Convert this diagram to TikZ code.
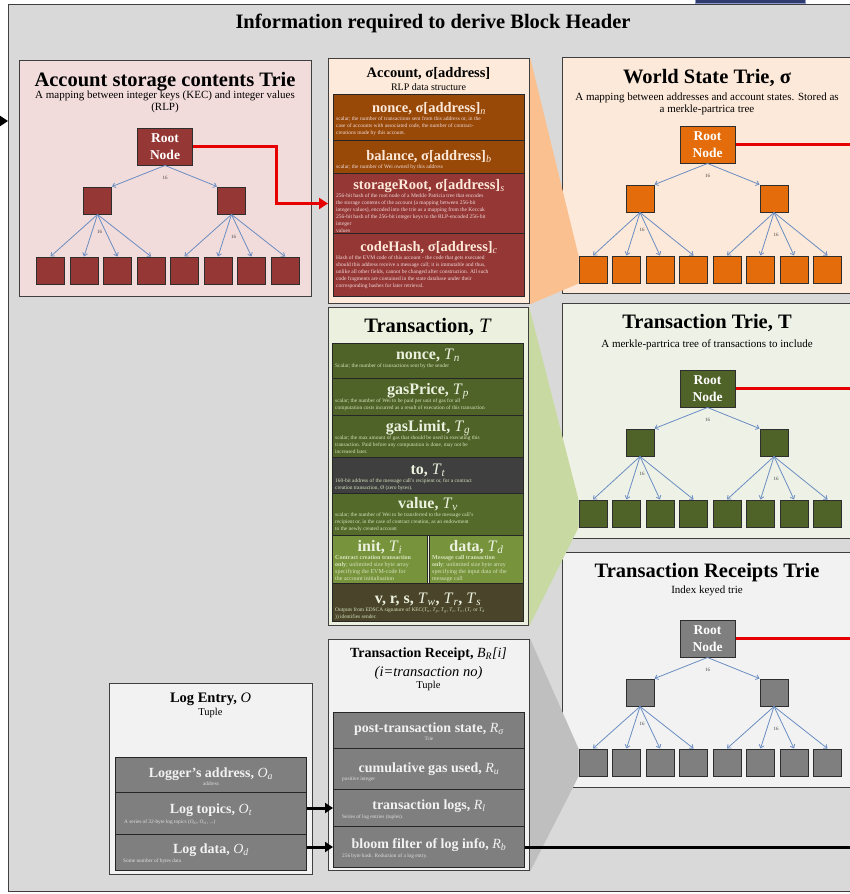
\documentclass[tikz,border=0pt]{standalone}
\usepackage{fontspec}
\setmainfont{Liberation Serif}
\usetikzlibrary{arrows.meta,calc}
\pgfdeclarelayer{back}
\pgfdeclarelayer{mid}
\pgfsetlayers{back,mid,main}

\definecolor{bgmain}{HTML}{D9D9D9}
\definecolor{edge}{HTML}{3F3F3F}
\definecolor{nodeedge}{HTML}{2E2E2E}
\definecolor{rowedge}{HTML}{262626}
\definecolor{asfill}{HTML}{F2DCDB}
\definecolor{asnode}{HTML}{953735}
\definecolor{wsfill}{HTML}{FDE9D9}
\definecolor{wsnode}{HTML}{E46C0A}
\definecolor{accfill}{HTML}{FDEADA}
\definecolor{accbrown}{HTML}{984807}
\definecolor{accred}{HTML}{953735}
\definecolor{acctext}{HTML}{FDE9D9}
\definecolor{accdesc}{HTML}{F2DCDB}
\definecolor{orangefun}{HTML}{FAC090}
\definecolor{txtriefill}{HTML}{EEF1E6}
\definecolor{txnode}{HTML}{4F6228}
\definecolor{txbox}{HTML}{EBF1DE}
\definecolor{txrow}{HTML}{4F6228}
\definecolor{txto}{HTML}{3F3F3F}
\definecolor{txvalue}{HTML}{536A2B}
\definecolor{txlight}{HTML}{77933C}
\definecolor{txvrs}{HTML}{4A452A}
\definecolor{txtext}{HTML}{EBF1DE}
\definecolor{txdesc}{HTML}{D7E4BD}
\definecolor{greenfun}{HTML}{C8DAA2}
\definecolor{rcfill}{HTML}{F2F2F2}
\definecolor{rcnode}{HTML}{7F7F7F}
\definecolor{greyfun}{HTML}{BFBFBF}
\definecolor{logfill}{HTML}{F2F2F2}
\definecolor{logrow}{HTML}{7F7F7F}
\definecolor{logtext}{HTML}{F2F2F2}
\definecolor{logdesc}{HTML}{E0E0E0}
\definecolor{tblue}{HTML}{6A8DC2}
\definecolor{labelgrey}{HTML}{404040}
\definecolor{redc}{HTML}{E60000}
\definecolor{stripnavy}{HTML}{2F3A6E}
\definecolor{stripedge}{HTML}{8C9AC8}

\newcommand\fsz[2]{\fontsize{#1}{#2}\selectfont}
\newcommand\itm[1]{\textit{\mdseries #1}}
\newcommand\isub[2]{\itm{#1}\textsubscript{\itm{#2}}}

% A two-level trie: #1 name prefix, #2 centre x, #3 root top, #4 middle row top,
% #5 leaf row top, #6 node colour
\newcommand\drawtrie[6]{%
  \node[rootnode, fill=#6] (#1root) at (#2, #3+18.5) {Root\\Node};
  \node[tnode, fill=#6] (#1a) at (#2-67.5, #4+13.5) {};
  \node[tnode, fill=#6] (#1b) at (#2+66.5, #4+13.5) {};
  \foreach \k in {1,...,8}
    \node[tnode, fill=#6] (#1l\k) at ({#2-114.5+33.5*(\k-1)}, #5+13.5) {};
  \draw[tarrow] (#1root.south) -- (#1a.north east);
  \draw[tarrow] (#1root.south) -- (#1b.north west);
  \foreach \k in {1,...,4} \draw[tarrow] (#1a.south) -- (#1l\k.north);
  \foreach \k in {5,...,8} \draw[tarrow] (#1b.south) -- (#1l\k.north);
  \path (#1root.south) ++(0,12) node[tlabel] (#1n0) {16};
  \path (#1a.south) ++(2,17) node[tlabel] (#1n1) {16};
  \path (#1b.south) ++(2,22) node[tlabel] (#1n2) {16};
}

% A field row: #1 name, #2 left x, #3 top y, #4 width, #5 height, #6 fill,
% #7 title baseline offset, #8 title, #9 description
\newcommand\fieldrow[9]{%
  \node[rowrect, fill=#6, minimum width=#4, minimum height=#5] (#1) at (#2,#3) {};
  \node[rowtitle, anchor=base] (#1t) at ($(#1.north)+(0,#7)$) {#8};
  \node[rowdesc, anchor=north west] (#1d) at ($(#1.west |- #1t.base)+(3,4)$) {#9};
}

\begin{document}
\begin{tikzpicture}[x=1pt,y=-1pt,
  box/.style={draw=edge, line width=1.2pt, inner sep=0pt, anchor=north west},
  ptitle/.style={font=\fsz{20.5}{23}\bfseries, inner sep=0pt},
  psub/.style={font=\fsz{11}{12.5}, align=center, inner sep=0pt},
  rootnode/.style={draw=nodeedge, line width=1pt, minimum width=55pt, minimum height=37pt,
    inner sep=0pt, font=\fsz{13.5}{17}\bfseries, text=white, align=center},
  tnode/.style={draw=nodeedge, line width=1pt, minimum width=28pt, minimum height=27pt, inner sep=0pt},
  tarrow/.style={draw=tblue, line width=0.8pt, -{Straight Barb[length=3pt,width=5pt]}},
  tlabel/.style={font=\fsz{5}{6}, text=labelgrey, inner sep=0pt},
  rowrect/.style={draw=rowedge, line width=1pt, inner sep=0pt, anchor=north west},
  lrtitle/.style={font=\fsz{14}{16}\bfseries, text=logtext, inner sep=0pt},
  lrsub/.style={font=\fsz{5.3}{6}, text=logdesc, inner sep=0pt},
  redline/.style={draw=redc, line width=3pt},
  blackline/.style={draw=black, line width=3pt},
  blackarrow/.style={blackline, -{Triangle[length=8pt,width=10pt]}},
]
\useasboundingbox (0,0) rectangle (850,894);

% ---------- background panels ----------
\begin{pgfonlayer}{back}
  \node[box, fill=bgmain, minimum width=856pt, minimum height=887pt] (main) at (8,4) {};
  \node[box, fill=asfill, minimum width=292pt, minimum height=236pt] (asPanel) at (19,60) {};
  \node[box, fill=wsfill, minimum width=300pt, minimum height=236pt] (wsPanel) at (562,57) {};
  \node[box, fill=txtriefill, minimum width=300pt, minimum height=235pt] (txPanel) at (562,303) {};
  \node[box, fill=rcfill, minimum width=300pt, minimum height=235pt] (rcPanel) at (562,552) {};
\end{pgfonlayer}

\node[draw=stripedge, fill=stripnavy, line width=0.6pt, minimum width=110pt, minimum height=4pt,
  inner sep=0pt, anchor=north west] (strip) at (695,-1) {};

\node[ptitle, anchor=base] (title) at (433,28) {Information required to derive Block Header};

% ---------- trie panels (subtitle nodes are placed by their last baseline) ----------
\node[ptitle, anchor=base] (asT) at (165,86) {Account storage contents Trie};
\node[psub, anchor=base] (asS) at (165,110.5) {A mapping between integer keys (KEC) and integer values\\(RLP)};
\drawtrie{as}{165}{128}{187}{257}{asnode}

\node[ptitle, anchor=base] (wsT) at (707,83) {World State Trie, σ};
\node[psub, anchor=base] (wsS) at (707,112.5) {A mapping between addresses and account states. Stored as\\a merkle-partrica tree};
\drawtrie{ws}{707.5}{126}{185}{256}{wsnode}

\node[ptitle, anchor=base] (txtT) at (707,328) {Transaction Trie, T};
\node[psub, anchor=base] (txtS) at (707,347) {A merkle-partrica tree of transactions to include};
\drawtrie{tx}{707.5}{370}{429}{500}{txnode}

\node[ptitle, anchor=base] (rcT) at (707,577) {Transaction Receipts Trie};
\node[psub, anchor=base] (rcS) at (707,593) {Index keyed trie};
\drawtrie{rc}{707.5}{620}{679}{749}{rcnode}

% ---------- account ----------
\node[box, fill=accfill, minimum width=201pt, minimum height=245pt] (acc) at (328,58) {};
\node[font=\fsz{14.5}{16}\bfseries, inner sep=0pt, anchor=base] (accT) at (428.5,77) {Account, σ[address]};
\node[font=\fsz{10}{12}, inner sep=0pt, anchor=base] (accL) at (428.5,90) {RLP data structure};
\begin{scope}[
  rowtitle/.style={font=\fsz{14.5}{16}\bfseries, text=acctext, inner sep=0pt},
  rowdesc/.style={font=\fsz{5.5}{7}, text=accdesc, align=left, inner sep=0pt}]
\fieldrow{accN}{333}{94}{191}{46}{accbrown}{18}{nonce, σ[address]\textsubscript{\itm{n}}}
  {scalar; the number of transactions sent from this address or, in the\\case of accounts with associated code, the number of contract-\\creations made by this account.}
\fieldrow{accB}{333}{140}{191}{33}{accbrown}{20}{balance, σ[address]\textsubscript{\itm{b}}}
  {scalar; the number of Wei owned by this address}
\fieldrow{accS}{333}{173}{191}{60}{accred}{16}{storageRoot, σ[address]\textsubscript{\itm{s}}}
  {256-bit hash of the root node of a Merkle Patricia tree that encodes\\the storage contents of the account (a mapping between 256-bit\\integer values), encoded into the trie as a mapping from the Keccak\\256-bit hash of the 256-bit integer keys to the RLP-encoded 256-bit\\integer\\values}
\fieldrow{accC}{333}{233}{191}{63}{accred}{18}{codeHash, σ[address]\textsubscript{\itm{c}}}
  {Hash of the EVM code of this account - the code that gets executed\\should this address receive a message call; it is immutable and thus,\\unlike all other fields, cannot be changed after construction. All such\\code fragments are contained in the state database under their\\corresponding hashes for later retrieval.}
\end{scope}

% ---------- transaction ----------
\node[box, fill=txbox, minimum width=200pt, minimum height=318pt] (tx) at (328,307) {};
\node[font=\fsz{20.5}{22}\bfseries, inner sep=0pt, anchor=base] (txT) at (428,332) {Transaction, \itm{T}};
\begin{scope}[
  rowtitle/.style={font=\fsz{16}{18}\bfseries, text=txtext, inner sep=0pt},
  rowdesc/.style={font=\fsz{5.4}{7.4}, text=txdesc, align=left, inner sep=0pt}]
\fieldrow{txN}{332}{343}{191}{35}{txrow}{16}{nonce, \isub{T}{n}}
  {Scalar; the number of transactions sent by the sender}
\fieldrow{txP}{332}{378}{191}{37}{txrow}{16}{gasPrice, \isub{T}{p}}
  {scalar; the number of Wei to be paid per unit of gas for all\\computation costs incurred as a result of execution of this transaction}
\fieldrow{txG}{332}{415}{191}{42}{txrow}{16}{gasLimit, \isub{T}{g}}
  {scalar; the max amount of gas that should be used in executing this\\transaction. Paid before any computation is done, may not be\\increased later.}
\fieldrow{txTo}{332}{457}{191}{36}{txto}{17}{to, \isub{T}{t}}
  {160-bit address of the message call's recipient or, for a contract\\creation transaction, Ø (zero bytes).}
\fieldrow{txV}{332}{493}{191}{42}{txvalue}{15}{value, \isub{T}{v}}
  {scalar; the number of Wei to be transferred to the message call's\\recipient or, in the case of contract creation, as an endowment\\to the newly created account}
\begin{scope}[rowdesc/.style={font=\fsz{6}{7.2}, text=txdesc, align=left, inner sep=0pt}]
\fieldrow{txI}{332}{535}{95}{48}{txlight}{16}{init, \isub{T}{i}}
  {\textbf{Contract creation transaction}\\\textbf{only}; unlimited size byte array\\specifying the EVM-code for\\the account initialisation}
\fieldrow{txD}{429}{535}{94}{48}{txlight}{16}{data, \isub{T}{d}}
  {\textbf{Message call transaction}\\\textbf{only}; unlimited size byte array\\specifying the input data of the\\message call}
\end{scope}
\fieldrow{txS}{332}{583}{191}{38}{txvrs}{20}{v, r, s, \isub{T}{w}, \isub{T}{r}, \isub{T}{s}}
  {Outputs from EDSCA signature of KEC(\isub{T}{n}, \isub{T}{p}, \isub{T}{g}, \isub{T}{t}, \isub{T}{v}, (\isub{T}{i} or \isub{T}{d}\\)) identifies sender.}
\end{scope}

% ---------- log entry ----------
\node[box, fill=logfill, minimum width=203pt, minimum height=191pt] (log) at (109,683) {};
\node[font=\fsz{14.5}{16}\bfseries, inner sep=0pt, anchor=base] (logT) at (210.5,702) {Log Entry, \itm{O}};
\node[font=\fsz{10.5}{12}, inner sep=0pt, anchor=base] (logL) at (210.5,715) {Tuple};
\node[rowrect, fill=logrow, minimum width=191pt, minimum height=35pt] (leA) at (115,757) {};
\node[lrtitle, anchor=base] (leAt) at ($(leA.north)+(0,20)$) {Logger's address, \isub{O}{a}};
\node[lrsub, anchor=base] (leAd) at ($(leA.north)+(0,28)$) {address};
\node[rowrect, fill=logrow, minimum width=191pt, minimum height=42pt] (leT) at (115,792) {};
\node[lrtitle, anchor=base] (leTt) at ($(leT.north)+(0,21)$) {Log topics, \isub{O}{t}};
\node[lrsub, anchor=base west] (leTd) at ($(leT.north west)+(9,31)$) {A series of 32-byte log topics (\isub{O}{t0}, \isub{O}{t1}, ...)};
\node[rowrect, fill=logrow, minimum width=191pt, minimum height=36pt] (leD) at (115,834) {};
\node[lrtitle, anchor=base] (leDt) at ($(leD.north)+(0,19)$) {Log data, \isub{O}{d}};
\node[lrsub, anchor=base west] (leDd) at ($(leD.north west)+(8,28)$) {Some number of bytes data};

% ---------- transaction receipt ----------
\node[box, fill=logfill, minimum width=201pt, minimum height=231pt] (rc) at (328,639) {};
\node[font=\fsz{14}{16}\bfseries, inner sep=0pt, anchor=base] (rcTT) at (428.5,657) {Transaction Receipt, \itm{B}\textsubscript{\itm{R}}\itm{[i]}};
\node[font=\fsz{14.5}{16}\itshape, inner sep=0pt, anchor=base] (rcI) at (428.5,676) {(i=transaction no)};
\node[font=\fsz{10.5}{12}, inner sep=0pt, anchor=base] (rcL) at (428.5,688) {Tuple};
\node[rowrect, fill=logrow, minimum width=191pt, minimum height=36pt] (rS) at (333,712) {};
\node[lrtitle, anchor=base] (rSt) at ($(rS.north)+(0,20)$) {post-transaction state, \isub{R}{σ}};
\node[lrsub, anchor=base] (rSd) at ($(rS.north)+(0,28)$) {Trie};
\node[rowrect, fill=logrow, minimum width=191pt, minimum height=41pt] (rU) at (333,748) {};
\node[lrtitle, anchor=base] (rUt) at ($(rU.north)+(0,24)$) {cumulative gas used, \isub{R}{u}};
\node[lrsub, anchor=base west] (rUd) at ($(rU.north west)+(9,32)$) {positive integer};
\node[rowrect, fill=logrow, minimum width=191pt, minimum height=37pt] (rL) at (333,789) {};
\node[lrtitle, anchor=base] (rLt) at ($(rL.north)+(0,20)$) {transaction logs, \isub{R}{l}};
\node[lrsub, anchor=base west] (rLd) at ($(rL.north west)+(9,29)$) {Series of log entries (tuples).};
\node[rowrect, fill=logrow, minimum width=191pt, minimum height=41pt] (rB) at (333,826) {};
\node[lrtitle, anchor=base] (rBt) at ($(rB.north)+(0,22)$) {bloom filter of log info, \isub{R}{b}};
\node[lrsub, anchor=base west] (rBd) at ($(rB.north west)+(9,31)$) {256 byte hash. Reduction of a log entry.};

% ---------- call-out wedges from the structures to a trie leaf ----------
\begin{pgfonlayer}{mid}
  \fill[orangefun] (acc.north east) -- (wsl1.north west) -- (wsl1.south west) -- (acc.south east) -- cycle;
  \fill[greenfun] (tx.north east) -- (txl1.north west) -- (txl1.south west) -- (tx.south east) -- cycle;
  \fill[greyfun] (rc.north east) -- (rcl1.north west) -- (rcl1.south west) -- (rc.south east) -- cycle;
\end{pgfonlayer}

% ---------- connectors ----------
\coordinate (rightedge) at (862,0);
\coordinate (bendA) at (276,0);
\coordinate (inL) at (-20,121);
\coordinate (inR) at (8,121);

\draw[redline, -{Triangle[length=9pt,width=11pt]}]
  (asroot.east) -| (bendA |- accS.west) -- (acc.west |- accS.west);
\draw[redline] (wsroot.east) -- (wsroot.east -| rightedge);
\draw[redline] (txroot.east) -- (txroot.east -| rightedge);
\draw[redline] (rcroot.east) -- (rcroot.east -| rightedge);

\draw[blackarrow] (rL.west -| leT.east) -- (rL.west);
\draw[blackarrow] (rB.west -| leD.east) -- (rB.west);
\draw[blackline] (rB.east) -- (rB.east -| rightedge);
\draw[blackarrow] (inL) -- (inR);
\end{tikzpicture}
\end{document}
